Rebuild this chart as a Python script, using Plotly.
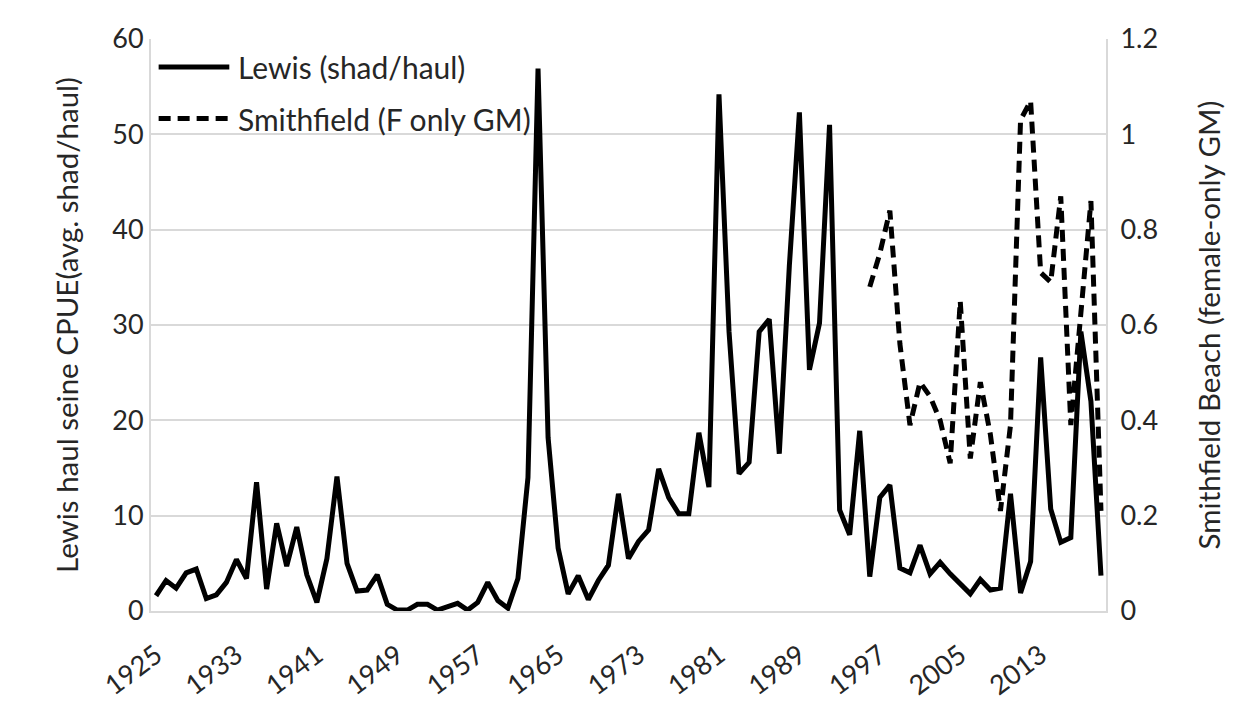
import plotly.graph_objects as go

# Lewis haul seine catch per unit effort, 1925-2019 (avg. shad per haul)
years = list(range(1925, 2020))
lewis = [
    1.6, 3.2, 2.4, 4.0, 4.4, 1.3, 1.7, 3.0, 5.4, 3.4,      # 1925-1934
    13.5, 2.3, 9.2, 4.7, 8.8, 3.8, 0.9, 5.5, 14.1, 5.0,    # 1935-1944
    2.1, 2.2, 3.8, 0.7, 0.1, 0.1, 0.7, 0.7, 0.1, 0.4,      # 1945-1954
    0.8, 0.1, 0.9, 3.0, 1.1, 0.3, 3.4, 14.0, 56.9, 18.2,   # 1955-1964
    6.6, 1.8, 3.7, 1.2, 3.2, 4.8, 12.3, 5.5, 7.3, 8.5,     # 1965-1974
    14.9, 11.9, 10.2, 10.2, 18.7, 13.0, 54.2, 29.3, 14.4, 15.6,  # 1975-1984
    29.3, 30.6, 16.5, 36.2, 52.3, 25.3, 30.2, 51.0, 10.6, 8.0,   # 1985-1994
    18.9, 3.6, 11.9, 13.2, 4.5, 4.0, 6.9, 3.9, 5.1, 3.9,   # 1995-2004
    2.8, 1.8, 3.3, 2.2, 2.4, 12.3, 1.9, 5.2, 26.6, 10.7,   # 2005-2014
    7.2, 7.7, 29.3, 22.0, 3.7,                             # 2015-2019
]

# Smithfield Beach female-only geometric mean, 1996-2019
smith_years = list(range(1996, 2020))
smithfield = [
    0.68, 0.75, 0.84, 0.56, 0.39, 0.48, 0.45, 0.40, 0.31, 0.65,
    0.32, 0.48, 0.37, 0.21, 0.39, 1.03, 1.07, 0.71, 0.69, 0.87,
    0.39, 0.63, 0.86, 0.21,
]

tick_years = list(range(1925, 2014, 8))

FONT = "Lato"
TEXT = "#262626"
GRID = "#d9d9d9"
FS_TICK = 27
FS_TITLE = 29.5
FS_LEGEND = 30
DASH = "12px,7px"

fig = go.Figure()
fig.add_trace(go.Scatter(
    x=years, y=lewis, mode="lines", name="Lewis (shad/haul)",
    line=dict(color="black", width=5), showlegend=False,
))
fig.add_trace(go.Scatter(
    x=smith_years, y=smithfield, mode="lines", name="Smithfield (F only GM)",
    yaxis="y2", line=dict(color="black", width=5, dash=DASH), showlegend=False,
))

# legend drawn inside the top-left corner of the plot
legend_items = [("Lewis (shad/haul)", "solid", 0.951), ("Smithfield (F only GM)", DASH, 0.861)]
shapes = []
annotations = []
for label, dash, ypos in legend_items:
    shapes.append(dict(type="line", xref="paper", yref="paper",
                       x0=0.008, x1=0.082, y0=ypos, y1=ypos,
                       line=dict(color="black", width=5, dash=dash)))
    annotations.append(dict(xref="paper", yref="paper", x=0.089, y=ypos,
                            xanchor="left", yanchor="middle", showarrow=False,
                            text=label, font=dict(family=FONT, size=FS_LEGEND, color=TEXT)))

fig.update_layout(
    width=1254, height=713,
    margin=dict(l=151, r=148, t=39, b=100),
    paper_bgcolor="white", plot_bgcolor="white",
    font=dict(family=FONT, size=FS_TICK, color=TEXT),
    shapes=shapes, annotations=annotations,
    xaxis=dict(
        range=[1924.5, 2019.5], tickmode="array", tickvals=tick_years,
        ticktext=[str(y) for y in tick_years], tickangle=-37,
        showgrid=False, zeroline=False, showline=True, linecolor=GRID, linewidth=2,
        ticks="", tickfont=dict(size=FS_TICK), ticklabelstandoff=16,
    ),
    yaxis=dict(
        range=[0, 60], dtick=10, showgrid=True, gridcolor=GRID, gridwidth=2,
        zeroline=False, showline=True, linecolor=GRID, linewidth=2, ticks="",
        title=dict(text="Lewis haul seine CPUE(avg. shad/haul)", standoff=25,
                   font=dict(size=FS_TITLE)),
    ),
    yaxis2=dict(
        range=[0, 1.2], dtick=0.2, overlaying="y", side="right",
        showgrid=False, zeroline=False, showline=True, linecolor=GRID, linewidth=2,
        ticks="", ticklabelstandoff=7,
        title=dict(text="Smithfield Beach (female-only GM)", standoff=42,
                   font=dict(size=FS_TITLE)),
    ),
)

fig.write_html("out.html")
